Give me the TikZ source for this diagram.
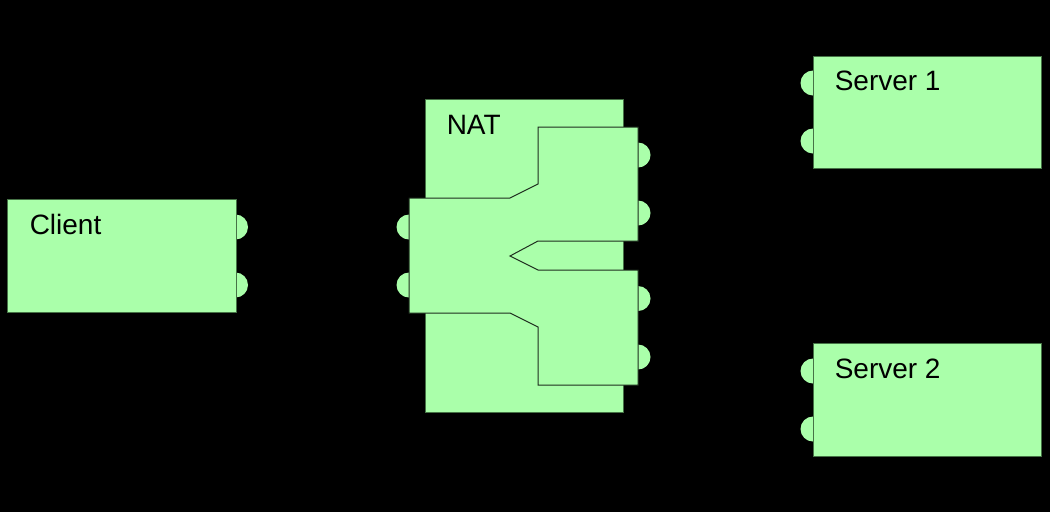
\documentclass[tikz,border=0pt]{standalone}
\usepackage{fontspec}
\setmainfont{Liberation Sans}
\usepackage{tikz}
\usetikzlibrary{calc}
\definecolor{boxfill}{RGB}{170,255,170}
\definecolor{boxline}{RGB}{70,115,70}
\definecolor{pathline}{RGB}{30,45,30}

\begin{document}
\begin{tikzpicture}[x=0.75pt,y=-0.75pt]
	\tikzstyle{box} = [draw=boxline, fill=boxfill, line width=0.75pt, inner sep=0pt, anchor=north west]
	\tikzstyle{port} = [fill=boxfill]
	\tikzstyle{lbl} = [anchor=base west, inner sep=0pt, font=\fontsize{21pt}{25pt}\selectfont]
	\fill[black] (0,0) rectangle (1050,512);
	% ports, drawn first so the boxes hide their inner halves
	\fill[port]
			(235.5,227) circle (12.5)
			(235.5,285) circle (12.5)
			(409,227) circle (12.5)
			(409,285) circle (12.5)
			(638,155) circle (12.5)
			(638,213) circle (12.5)
			(638,298.5) circle (12.5)
			(638,357) circle (12.5)
			(813,83) circle (12.5)
			(813,141) circle (12.5)
			(813,371) circle (12.5)
			(813,429) circle (12.5);
		\node[box, minimum width=171.4pt, minimum height=84.75pt] (client) at (7,199) {};
		\node[box, minimum width=148.5pt, minimum height=234.75pt] (nat) at (425,99) {};
		\node[box, minimum width=171pt, minimum height=84pt] (server1) at (813,56) {};
		\node[box, minimum width=171pt, minimum height=84.75pt] (server2) at (813,343) {};
	\filldraw[fill=boxfill, draw=pathline, line width=0.75pt]
			(409,198) -- (510,198) -- (538,184) -- (538,127) -- (638,127)
			-- (638,241) -- (538,241) -- (510,256) -- (538,270) -- (638,270)
			-- (638,385) -- (538,385) -- (538,327) -- (510,313) -- (409,313) -- cycle;
		\node[lbl] (clientlbl) at ($(client.north west)+(22.5,35)$) {Client};
		\node[lbl] (natlbl) at ($(nat.north west)+(21.5,35)$) {NAT};
		\node[lbl] (server1lbl) at ($(server1.north west)+(21.5,34)$) {Server 1};
		\node[lbl] (server2lbl) at ($(server2.north west)+(21.5,35)$) {Server 2};
	\end{tikzpicture}
\end{document}
